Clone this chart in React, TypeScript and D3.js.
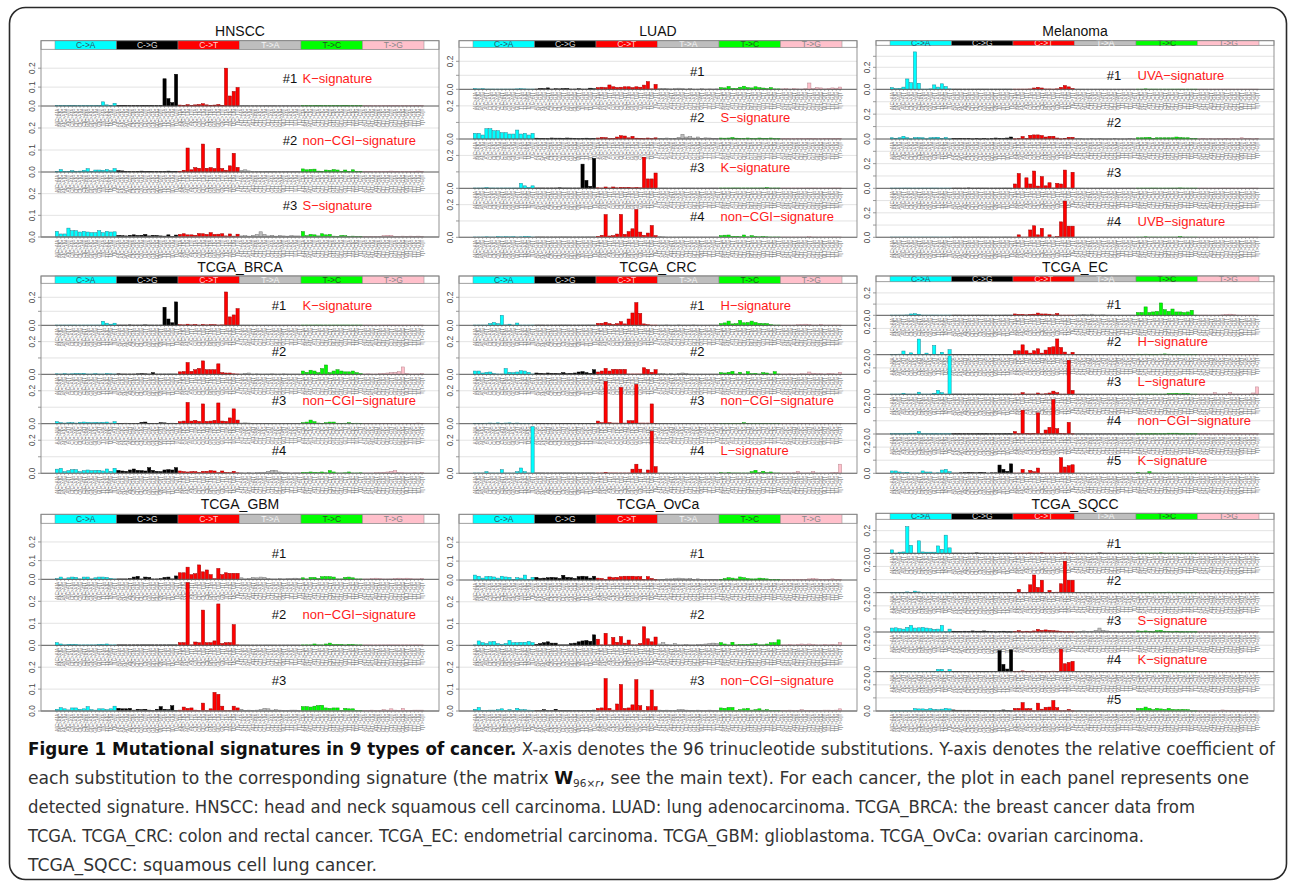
import * as d3 from 'd3'

// 96 trinucleotide substitutions
const substitutions = ['C->A', 'C->G', 'C->T', 'T->A', 'T->C', 'T->G']
const bases = ['A', 'C', 'G', 'T']
const contexts = substitutions.flatMap(s =>
  bases.flatMap(b5 => bases.map(b3 => `${b5}[${s[0]}>${s[3]}]${b3}`))
)

const subFill = ['#00ffff', '#000000', '#ff0000', '#bebebe', '#00ff00', '#ffc0cb']
const subStroke = ['#1b8a99', '#000000', '#9b0000', '#777777', '#119911', '#b98890']
const subText = ['#335566', '#dddddd', '#ffd0d0', '#f4f4f4', '#225522', '#888888']

// ---- HNSCC ----
const hnscc1 = [
  .002, .002, .002, .002, .002, .002, .002, .002, .002, .002, .002, .002, .022, .006, .004, .014,
  .002, .003, .003, .002, .002, .002, .002, .002, .002, .002, .002, .002, .144, .039, .018, .168,
  .005, .004, .007, .003, .006, .008, .012, .006, .004, .005, .008, .004, .200, .053, .077, .098,
  .002, .002, .002, .002, .002, .002, .002, .002, .002, .002, .002, .002, .002, .002, .002, .002,
  .002, .002, .002, .002, .002, .002, .002, .002, .002, .002, .002, .003, .002, .002, .002, .002,
  .002, .002, .002, .002, .002, .002, .002, .002, .002, .002, .002, .002, .002, .002, .002, .002,
]
const hnscc2 = [
  .002, .011, .002, .002, .006, .002, .004, .008, .015, .002, .009, .009, .008, .011, .006, .015,
  .006, .005, .003, .002, .002, .003, .004, .002, .003, .002, .002, .002, .002, .004, .002, .003,
  .003, .008, .109, .010, .020, .017, .127, .017, .020, .016, .108, .016, .008, .028, .085, .021,
  .007, .010, .005, .002, .002, .003, .002, .002, .002, .003, .002, .002, .002, .002, .002, .002,
  .014, .010, .012, .013, .004, .003, .009, .008, .011, .009, .002, .009, .002, .010, .002, .002,
  .002, .002, .002, .003, .002, .002, .002, .004, .002, .002, .002, .002, .002, .002, .004, .002,
]
const hnscc3 = [
  .026, .014, .014, .041, .029, .029, .023, .026, .023, .020, .020, .029, .020, .026, .023, .024,
  .007, .006, .005, .008, .010, .007, .008, .012, .005, .008, .007, .005, .004, .010, .003, .009,
  .012, .015, .010, .010, .008, .016, .015, .012, .020, .012, .013, .015, .005, .014, .004, .013,
  .005, .006, .004, .008, .012, .024, .012, .005, .008, .004, .007, .005, .004, .006, .005, .005,
  .025, .006, .012, .010, .005, .015, .010, .012, .004, .003, .007, .006, .003, .004, .002, .003,
  .002, .002, .003, .002, .003, .006, .008, .008, .002, .003, .004, .003, .004, .003, .004, .003,
]
const hnsccNames = ['K−signature', 'non−CGI−signature', 'S−signature']

// ---- LUAD ----
const luad1 = [
  .005, .003, .004, .002, .002, .002, .002, .002, .002, .002, .002, .003, .004, .003, .002, .002,
  .002, .006, .005, .010, .002, .004, .003, .005, .006, .002, .002, .004, .002, .002, .008, .004,
  .012, .015, .012, .031, .018, .013, .015, .018, .018, .012, .018, .015, .030, .055, .003, .035,
  .006, .007, .005, .003, .006, .008, .005, .002, .006, .002, .002, .004, .002, .003, .002, .003,
  .012, .010, .020, .007, .006, .015, .022, .012, .010, .018, .012, .009, .005, .012, .003, .003,
  .003, .004, .002, .006, .003, .002, .004, .045, .005, .012, .010, .003, .006, .010, .008, .016,
]
const luad2 = [
  .034, .034, .024, .062, .062, .050, .050, .038, .038, .030, .030, .054, .030, .034, .024, .034,
  .005, .003, .003, .002, .006, .005, .005, .004, .006, .005, .004, .002, .003, .005, .002, .003,
  .006, .010, .008, .002, .003, .012, .020, .018, .007, .016, .005, .004, .002, .006, .002, .007,
  .004, .002, .006, .003, .004, .010, .028, .012, .014, .006, .012, .004, .007, .006, .003, .004,
  .006, .005, .006, .009, .005, .004, .003, .006, .003, .002, .006, .003, .004, .006, .002, .002,
  .002, .002, .002, .002, .003, .004, .002, .003, .002, .002, .002, .004, .003, .002, .002, .003,
]
const luad3 = [
  .002, .002, .002, .004, .002, .002, .002, .002, .002, .002, .002, .002, .030, .015, .006, .015,
  .002, .002, .002, .002, .002, .002, .003, .002, .002, .002, .002, .002, .147, .048, .012, .181,
  .003, .002, .008, .002, .008, .003, .006, .005, .006, .003, .005, .003, .189, .057, .057, .093,
  .002, .002, .002, .002, .002, .002, .002, .002, .002, .002, .002, .002, .002, .002, .002, .002,
  .002, .002, .002, .002, .002, .002, .002, .002, .002, .002, .002, .002, .004, .002, .002, .002,
  .002, .002, .002, .002, .002, .002, .002, .002, .002, .002, .002, .002, .002, .002, .002, .002,
]
const luad4 = [
  .002, .002, .002, .003, .002, .002, .005, .003, .004, .003, .004, .002, .003, .006, .005, .002,
  .002, .002, .002, .002, .002, .002, .002, .002, .002, .002, .002, .002, .002, .002, .002, .002,
  .006, .012, .139, .008, .010, .020, .140, .018, .035, .052, .169, .032, .012, .026, .072, .010,
  .005, .003, .002, .002, .002, .002, .002, .002, .002, .002, .002, .002, .002, .002, .002, .002,
  .010, .013, .014, .006, .006, .004, .014, .003, .010, .005, .003, .005, .003, .002, .002, .002,
  .002, .002, .002, .002, .002, .002, .002, .004, .002, .002, .002, .002, .002, .002, .002, .002,
]
const luadNames = ['', 'S−signature', 'K−signature', 'non−CGI−signature']

// ---- Melanoma ----
const mel1 = [
  .015, .006, .008, .020, .094, .060, .340, .055, .002, .002, .004, .040, .020, .050, .025, .004,
  .002, .002, .002, .002, .002, .002, .002, .002, .002, .002, .002, .002, .002, .002, .002, .002,
  .002, .002, .002, .002, .003, .012, .018, .012, .003, .003, .002, .004, .018, .034, .022, .008,
  .002, .002, .002, .002, .002, .002, .002, .002, .002, .002, .002, .002, .002, .002, .002, .002,
  .002, .002, .004, .002, .002, .002, .002, .002, .002, .002, .002, .002, .002, .002, .002, .002,
  .002, .002, .002, .002, .002, .002, .002, .002, .002, .002, .002, .002, .002, .002, .002, .002,
]
const mel2 = [
  .010, .006, .010, .022, .010, .002, .012, .012, .010, .002, .010, .012, .014, .004, .012, .002,
  .004, .003, .005, .003, .005, .002, .004, .002, .004, .002, .003, .008, .006, .004, .008, .016,
  .002, .003, .020, .003, .030, .033, .033, .028, .016, .022, .022, .008, .002, .006, .014, .014,
  .003, .003, .002, .002, .004, .002, .003, .002, .002, .002, .003, .002, .002, .002, .003, .002,
  .010, .010, .012, .014, .004, .010, .010, .010, .010, .010, .016, .012, .010, .010, .003, .003,
  .002, .003, .002, .004, .002, .003, .002, .005, .002, .003, .002, .010, .004, .003, .002, .005,
]
const mel3 = [
  .002, .002, .002, .002, .002, .002, .002, .002, .002, .002, .002, .002, .002, .002, .002, .002,
  .002, .002, .002, .002, .003, .002, .002, .002, .002, .002, .002, .002, .002, .002, .002, .002,
  .035, .120, .002, .085, .035, .140, .018, .095, .020, .045, .003, .040, .035, .148, .003, .130,
  .002, .002, .002, .002, .002, .002, .002, .002, .002, .002, .002, .002, .002, .002, .002, .002,
  .002, .002, .002, .002, .002, .002, .002, .002, .002, .002, .002, .003, .002, .002, .002, .002,
  .002, .002, .002, .002, .002, .002, .002, .002, .002, .002, .002, .002, .002, .002, .002, .002,
]
const mel4 = [
  .002, .002, .002, .002, .002, .002, .002, .002, .002, .002, .002, .002, .002, .002, .002, .002,
  .002, .002, .002, .002, .002, .002, .002, .002, .002, .002, .002, .002, .002, .002, .002, .002,
  .002, .020, .002, .002, .060, .094, .020, .073, .002, .020, .002, .006, .126, .296, .091, .091,
  .002, .002, .002, .002, .002, .002, .002, .002, .002, .002, .002, .002, .002, .002, .002, .002,
  .002, .002, .004, .002, .002, .002, .002, .002, .002, .002, .002, .006, .002, .002, .002, .002,
  .002, .002, .002, .002, .002, .002, .002, .002, .002, .002, .002, .002, .002, .002, .002, .002,
]
const melNames = ['UVA−signature', '', '', 'UVB−signature']

// ---- TCGA_BRCA ----
const brca1 = [
  .002, .002, .002, .002, .002, .002, .002, .002, .002, .002, .002, .002, .029, .015, .008, .015,
  .002, .002, .002, .003, .002, .002, .002, .003, .002, .002, .002, .002, .129, .045, .018, .167,
  .004, .003, .008, .003, .006, .002, .006, .003, .005, .004, .002, .003, .238, .060, .074, .119,
  .002, .002, .002, .002, .002, .002, .002, .002, .002, .002, .002, .002, .002, .002, .002, .002,
  .002, .002, .002, .002, .002, .002, .002, .002, .002, .002, .002, .002, .002, .002, .002, .002,
  .002, .002, .002, .002, .002, .002, .002, .002, .002, .002, .002, .002, .002, .002, .002, .002,
]
const brca2 = [
  .003, .002, .004, .002, .003, .005, .004, .006, .002, .002, .004, .002, .002, .005, .003, .002,
  .003, .002, .002, .002, .002, .003, .004, .003, .002, .010, .002, .002, .002, .002, .002, .002,
  .015, .017, .072, .018, .028, .036, .082, .028, .028, .028, .064, .010, .008, .008, .003, .002,
  .002, .006, .008, .002, .003, .002, .002, .002, .003, .002, .002, .003, .002, .002, .002, .002,
  .020, .012, .025, .020, .010, .035, .057, .010, .020, .028, .020, .015, .015, .020, .010, .004,
  .002, .003, .002, .002, .004, .006, .008, .010, .012, .016, .045, .006, .002, .002, .002, .004,
]
const brca3 = [
  .012, .006, .004, .006, .006, .004, .008, .010, .008, .006, .008, .006, .008, .010, .004, .012,
  .002, .002, .003, .002, .002, .002, .008, .010, .002, .002, .002, .006, .005, .002, .003, .002,
  .012, .016, .129, .016, .020, .014, .120, .014, .016, .020, .126, .016, .014, .035, .090, .022,
  .004, .005, .004, .002, .002, .002, .002, .002, .002, .002, .002, .002, .002, .002, .002, .002,
  .006, .010, .022, .012, .004, .002, .006, .010, .010, .003, .002, .003, .006, .002, .003, .002,
  .002, .002, .002, .002, .002, .002, .002, .002, .002, .002, .002, .002, .002, .002, .004, .002,
]
const brca4 = [
  .025, .030, .010, .016, .022, .022, .010, .016, .020, .016, .018, .018, .014, .026, .012, .030,
  .018, .014, .012, .020, .026, .018, .016, .014, .034, .018, .012, .010, .020, .022, .020, .034,
  .014, .010, .008, .010, .010, .006, .012, .012, .016, .014, .004, .014, .006, .004, .012, .003,
  .003, .002, .004, .002, .004, .006, .006, .012, .018, .016, .008, .006, .004, .002, .003, .003,
  .006, .005, .008, .006, .004, .008, .003, .016, .008, .002, .002, .003, .008, .002, .002, .003,
  .002, .002, .002, .004, .004, .006, .008, .012, .016, .004, .003, .002, .002, .003, .002, .004,
]
const brcaNames = ['K−signature', '', 'non−CGI−signature', '']

// ---- TCGA_CRC ----
const crc1 = [
  .002, .002, .002, .002, .012, .020, .012, .071, .003, .008, .002, .016, .002, .002, .002, .002,
  .002, .002, .002, .002, .002, .002, .002, .002, .002, .002, .002, .002, .002, .002, .002, .002,
  .014, .014, .022, .012, .006, .012, .026, .010, .045, .088, .162, .085, .010, .004, .002, .002,
  .002, .002, .003, .002, .002, .003, .002, .002, .002, .003, .002, .002, .002, .002, .002, .002,
  .012, .017, .030, .010, .012, .035, .018, .020, .030, .020, .014, .012, .012, .004, .002, .002,
  .002, .002, .002, .002, .004, .006, .008, .004, .002, .002, .006, .002, .002, .002, .002, .002,
]
const crc2 = [
  .020, .020, .008, .012, .014, .004, .002, .002, .035, .012, .010, .014, .022, .020, .012, .002,
  .008, .006, .004, .008, .006, .006, .004, .010, .004, .006, .008, .014, .016, .010, .006, .028,
  .014, .020, .036, .020, .030, .030, .030, .030, .002, .002, .002, .002, .040, .030, .012, .028,
  .004, .004, .002, .004, .002, .006, .008, .006, .002, .002, .002, .002, .002, .002, .002, .002,
  .010, .008, .012, .018, .002, .012, .002, .016, .004, .006, .002, .010, .008, .002, .016, .002,
  .002, .002, .003, .002, .002, .004, .003, .014, .006, .004, .004, .002, .006, .004, .002, .012,
]
const crc3 = [
  .002, .002, .002, .003, .004, .003, .005, .002, .004, .005, .002, .004, .002, .002, .002, .002,
  .002, .002, .002, .002, .002, .002, .002, .002, .002, .002, .002, .002, .002, .002, .002, .002,
  .016, .006, .257, .006, .004, .004, .220, .004, .018, .018, .239, .004, .004, .004, .120, .002,
  .002, .002, .002, .002, .002, .002, .002, .002, .002, .002, .002, .002, .002, .002, .002, .002,
  .002, .002, .002, .002, .002, .002, .006, .002, .002, .002, .002, .002, .002, .002, .002, .002,
  .002, .002, .002, .002, .002, .002, .002, .002, .002, .002, .002, .002, .002, .002, .002, .002,
]
const crc4 = [
  .002, .002, .002, .010, .002, .002, .002, .022, .002, .002, .002, .010, .032, .010, .002, .282,
  .002, .002, .002, .002, .002, .002, .002, .002, .002, .002, .002, .002, .002, .002, .002, .002,
  .002, .002, .006, .002, .002, .002, .002, .002, .002, .025, .055, .025, .002, .020, .255, .040,
  .002, .002, .002, .002, .002, .002, .002, .002, .002, .002, .002, .002, .002, .002, .002, .002,
  .004, .002, .004, .002, .002, .002, .002, .002, .010, .018, .004, .012, .004, .008, .002, .002,
  .002, .002, .002, .003, .012, .002, .002, .002, .010, .002, .002, .002, .002, .004, .006, .055,
]
const crcNames = ['H−signature', '', 'non−CGI−signature', 'L−signature']

// ---- TCGA_EC ----
const ec1 = [
  .002, .002, .002, .002, .003, .012, .014, .008, .002, .002, .002, .002, .002, .002, .002, .002,
  .002, .002, .002, .002, .002, .002, .002, .002, .002, .002, .002, .002, .002, .002, .002, .002,
  .012, .008, .008, .004, .008, .010, .020, .012, .012, .010, .004, .016, .002, .002, .002, .002,
  .003, .004, .008, .004, .010, .003, .003, .004, .002, .002, .002, .002, .002, .002, .002, .002,
  .025, .025, .075, .025, .030, .035, .110, .050, .035, .056, .030, .030, .025, .030, .045, .002,
  .002, .002, .002, .002, .002, .002, .004, .008, .010, .006, .002, .002, .002, .002, .002, .002,
]
const ec2 = [
  .002, .002, .004, .028, .002, .014, .002, .119, .002, .012, .002, .070, .002, .018, .002, .038,
  .002, .002, .002, .002, .002, .002, .002, .002, .002, .002, .002, .002, .002, .002, .002, .002,
  .030, .030, .075, .030, .012, .030, .045, .012, .035, .055, .060, .120, .055, .020, .004, .018,
  .002, .002, .002, .002, .002, .002, .002, .002, .002, .002, .002, .002, .002, .002, .002, .002,
  .004, .002, .004, .002, .002, .002, .004, .006, .004, .002, .002, .002, .002, .002, .002, .002,
  .002, .002, .002, .002, .002, .002, .002, .002, .002, .002, .002, .002, .002, .002, .002, .002,
]
const ec3 = [
  .002, .002, .002, .008, .002, .002, .002, .016, .002, .002, .002, .008, .030, .012, .002, .291,
  .002, .002, .002, .002, .002, .002, .002, .002, .002, .002, .002, .002, .002, .002, .002, .002,
  .002, .002, .012, .002, .002, .002, .010, .002, .004, .010, .024, .012, .002, .002, .258, .030,
  .002, .002, .002, .002, .002, .002, .002, .002, .002, .002, .002, .002, .002, .002, .002, .002,
  .002, .002, .002, .002, .002, .002, .002, .002, .006, .006, .008, .004, .006, .006, .002, .002,
  .002, .002, .002, .002, .012, .002, .002, .002, .012, .002, .002, .002, .002, .002, .010, .056,
]
const ec4 = [
  .002, .002, .002, .002, .002, .006, .006, .018, .002, .002, .002, .002, .002, .002, .002, .002,
  .002, .002, .002, .002, .002, .002, .002, .002, .002, .002, .002, .002, .002, .002, .002, .002,
  .018, .002, .180, .004, .002, .004, .160, .002, .030, .050, .260, .040, .004, .002, .088, .002,
  .002, .002, .002, .002, .002, .002, .002, .002, .002, .002, .002, .002, .002, .002, .002, .002,
  .002, .002, .002, .002, .002, .002, .002, .002, .006, .006, .006, .002, .002, .002, .002, .002,
  .002, .002, .002, .002, .002, .002, .002, .002, .002, .002, .002, .002, .002, .002, .002, .002,
]
const ec5 = [
  .018, .018, .010, .004, .008, .002, .002, .002, .018, .010, .010, .002, .004, .025, .030, .012,
  .002, .002, .004, .006, .008, .006, .004, .008, .006, .002, .004, .004, .063, .030, .015, .072,
  .002, .002, .030, .002, .022, .012, .040, .002, .002, .002, .002, .002, .119, .048, .058, .065,
  .002, .002, .002, .002, .002, .002, .002, .002, .002, .002, .002, .002, .002, .002, .002, .002,
  .006, .002, .002, .012, .002, .002, .002, .002, .002, .002, .002, .002, .002, .002, .002, .002,
  .002, .002, .002, .002, .002, .002, .002, .002, .002, .002, .002, .002, .002, .002, .002, .002,
]
const ecNames = ['', 'H−signature', 'L−signature', 'non−CGI−signature', 'K−signature']

// ---- TCGA_GBM ----
const gbm1 = [
  .003, .012, .002, .008, .012, .010, .002, .012, .012, .002, .008, .012, .012, .010, .005, .002,
  .002, .002, .002, .004, .012, .016, .002, .012, .010, .002, .002, .004, .010, .012, .002, .018,
  .035, .035, .065, .025, .030, .077, .040, .050, .025, .003, .058, .025, .035, .032, .032, .032,
  .008, .002, .004, .010, .008, .012, .010, .004, .002, .002, .004, .002, .004, .004, .006, .004,
  .008, .002, .010, .010, .004, .014, .015, .014, .012, .002, .002, .010, .012, .008, .002, .002,
  .002, .002, .004, .006, .004, .002, .002, .002, .004, .006, .004, .006, .004, .002, .002, .004,
]
const gbm2 = [
  .012, .006, .002, .004, .004, .004, .002, .002, .002, .002, .002, .004, .004, .006, .002, .002,
  .002, .002, .002, .002, .002, .002, .002, .002, .002, .002, .002, .002, .002, .002, .002, .002,
  .012, .012, .285, .002, .015, .012, .160, .012, .012, .020, .188, .008, .012, .012, .094, .002,
  .002, .002, .002, .002, .002, .002, .002, .002, .002, .002, .002, .002, .002, .002, .002, .002,
  .002, .002, .002, .006, .002, .002, .006, .010, .004, .004, .004, .002, .004, .004, .002, .002,
  .002, .002, .002, .002, .002, .002, .002, .002, .002, .002, .002, .002, .002, .002, .002, .002,
]
const gbm3 = [
  .008, .015, .010, .005, .014, .014, .008, .010, .020, .006, .004, .010, .010, .006, .010, .022,
  .012, .010, .010, .012, .004, .008, .006, .008, .004, .002, .008, .020, .008, .006, .024, .002,
  .004, .018, .012, .014, .004, .002, .036, .002, .010, .085, .076, .022, .002, .002, .022, .014,
  .008, .002, .004, .002, .004, .006, .012, .010, .004, .006, .004, .002, .002, .004, .004, .002,
  .020, .020, .018, .022, .025, .026, .014, .012, .014, .014, .002, .012, .010, .010, .002, .002,
  .002, .002, .004, .002, .002, .006, .004, .010, .004, .002, .012, .002, .002, .004, .004, .004,
]
const gbmNames = ['', 'non−CGI−signature', '']

// ---- TCGA_OvCa ----
const ovca1 = [
  .026, .020, .010, .018, .018, .016, .010, .020, .016, .014, .002, .012, .010, .026, .002, .014,
  .014, .008, .010, .012, .014, .012, .008, .025, .014, .012, .008, .018, .020, .018, .010, .020,
  .010, .008, .002, .016, .012, .014, .018, .020, .020, .020, .018, .018, .002, .018, .008, .002,
  .002, .004, .006, .006, .008, .010, .008, .006, .008, .004, .006, .004, .004, .004, .004, .004,
  .004, .008, .012, .010, .006, .016, .012, .008, .006, .006, .010, .008, .006, .002, .002, .002,
  .002, .002, .002, .004, .004, .004, .004, .006, .008, .006, .004, .002, .004, .006, .002, .002,
]
const ovca2 = [
  .002, .020, .012, .008, .016, .018, .008, .004, .008, .022, .012, .012, .014, .014, .018, .012,
  .004, .008, .012, .016, .010, .010, .002, .002, .002, .008, .010, .016, .020, .022, .018, .048,
  .028, .002, .055, .002, .036, .014, .040, .010, .024, .002, .002, .008, .085, .030, .016, .038,
  .006, .012, .004, .002, .008, .002, .002, .004, .002, .002, .004, .004, .006, .008, .010, .008,
  .012, .006, .002, .014, .002, .004, .004, .004, .006, .008, .002, .002, .006, .012, .012, .025,
  .002, .002, .004, .002, .004, .006, .004, .006, .004, .002, .002, .004, .002, .004, .002, .012,
]
const ovca3 = [
  .008, .016, .002, .002, .004, .004, .006, .010, .002, .006, .002, .012, .006, .006, .004, .002,
  .002, .002, .006, .002, .002, .008, .002, .002, .002, .002, .002, .002, .002, .002, .002, .004,
  .012, .014, .148, .012, .004, .032, .121, .012, .014, .028, .143, .024, .002, .020, .096, .020,
  .004, .002, .004, .002, .002, .006, .006, .004, .002, .002, .004, .002, .002, .004, .002, .002,
  .014, .012, .016, .016, .002, .006, .010, .012, .004, .006, .010, .004, .006, .002, .002, .002,
  .002, .002, .004, .002, .002, .006, .002, .002, .002, .002, .002, .004, .004, .002, .004, .010,
]
const ovcaNames = ['', '', 'non−CGI−signature']

// ---- TCGA_SQCC ----
const sqcc1 = [
  .030, .002, .010, .012, .235, .070, .002, .110, .012, .010, .010, .010, .065, .035, .160, .048,
  .002, .002, .002, .002, .002, .002, .004, .002, .002, .002, .002, .002, .002, .002, .002, .002,
  .002, .002, .002, .002, .003, .002, .002, .004, .002, .002, .002, .002, .003, .004, .002, .002,
  .002, .002, .002, .002, .002, .002, .008, .002, .002, .002, .002, .002, .002, .002, .002, .002,
  .002, .002, .002, .002, .002, .002, .004, .002, .002, .002, .002, .002, .002, .002, .002, .002,
  .002, .002, .002, .002, .002, .002, .002, .002, .002, .002, .002, .002, .002, .002, .002, .002,
]
const sqcc2 = [
  .002, .002, .002, .002, .006, .002, .012, .006, .002, .002, .002, .002, .003, .002, .002, .002,
  .002, .002, .002, .002, .002, .002, .002, .002, .002, .002, .002, .002, .002, .002, .002, .002,
  .002, .025, .002, .002, .060, .135, .040, .095, .002, .018, .002, .004, .068, .240, .095, .095,
  .002, .002, .002, .002, .002, .002, .002, .002, .002, .002, .002, .002, .002, .002, .002, .002,
  .002, .002, .002, .002, .002, .002, .002, .002, .004, .002, .002, .002, .002, .002, .002, .002,
  .002, .002, .002, .002, .002, .002, .002, .002, .002, .002, .002, .002, .002, .002, .002, .002,
]
const sqcc3 = [
  .030, .032, .025, .022, .035, .050, .030, .032, .035, .030, .025, .020, .022, .050, .002, .022,
  .006, .004, .004, .006, .004, .008, .006, .006, .008, .006, .004, .002, .004, .006, .002, .002,
  .004, .010, .002, .006, .002, .008, .020, .012, .016, .012, .010, .008, .006, .002, .002, .002,
  .002, .004, .008, .004, .006, .012, .030, .012, .008, .004, .006, .002, .002, .002, .002, .002,
  .008, .006, .008, .004, .002, .010, .012, .006, .004, .002, .006, .002, .002, .002, .002, .002,
  .002, .002, .002, .002, .002, .002, .002, .002, .002, .002, .002, .002, .002, .002, .002, .002,
]
const sqcc4 = [
  .002, .002, .002, .002, .002, .002, .002, .002, .002, .002, .002, .002, .018, .018, .002, .016,
  .002, .002, .002, .002, .002, .002, .002, .002, .002, .002, .002, .002, .160, .055, .020, .165,
  .002, .002, .006, .002, .002, .002, .004, .002, .002, .002, .004, .002, .170, .060, .070, .078,
  .002, .002, .002, .002, .002, .002, .002, .002, .002, .002, .002, .002, .002, .002, .002, .002,
  .002, .002, .002, .002, .002, .002, .002, .002, .002, .002, .002, .002, .002, .002, .002, .002,
  .002, .002, .002, .002, .002, .002, .002, .002, .002, .002, .002, .002, .002, .002, .002, .002,
]
const sqcc5 = [
  .002, .002, .002, .002, .002, .002, .018, .016, .016, .012, .018, .012, .010, .014, .020, .016,
  .008, .006, .006, .006, .006, .004, .004, .004, .004, .002, .002, .004, .004, .008, .004, .002,
  .020, .020, .064, .018, .018, .002, .060, .014, .028, .030, .080, .025, .002, .002, .012, .002,
  .002, .004, .002, .002, .002, .002, .002, .002, .002, .002, .002, .002, .002, .002, .002, .002,
  .020, .020, .030, .020, .010, .020, .016, .012, .020, .012, .010, .010, .012, .010, .002, .002,
  .002, .002, .002, .002, .004, .004, .008, .006, .004, .002, .004, .002, .002, .004, .002, .002,
]
const sqccNames = ['', '', 'S−signature', 'K−signature', '']

// ---- layout ----
const colLeft = [41, 459, 876]
const boxW = 398
const barInset = 14
const barSpan = 369

type Panel = {
  title: string
  col: number
  titleY: number
  headTop: number
  headBot: number
  baselines: number[]
  ymax: number
  ticks: number[]
  labels: number[]
  numDx: number
  labelV: number
  sigs: number[][]
  names: string[]
}

const panels: Panel[] = [
  { title: 'HNSCC', col: 0, titleY: 35.8, headTop: 40.7, headBot: 49.3, baselines: [106, 172, 237], ymax: 0.3, ticks: [0, 0.1, 0.2], labels: [0, 0.1, 0.2], numDx: 241.7, labelV: 0.145, sigs: [hnscc1, hnscc2, hnscc3], names: hnsccNames },
  { title: 'LUAD', col: 1, titleY: 35.8, headTop: 40.7, headBot: 47.3, baselines: [89.3, 139, 188.3, 237.3], ymax: 0.3, ticks: [0, 0.1, 0.2], labels: [0, 0.2], numDx: 231, labelV: 0.13, sigs: [luad1, luad2, luad3, luad4], names: luadNames },
  { title: 'Melanoma', col: 2, titleY: 35.8, headTop: 40.7, headBot: 45.3, baselines: [89.3, 139, 188.3, 237.3], ymax: 0.4, ticks: [0, 0.1, 0.2, 0.3], labels: [0, 0.2], numDx: 230.7, labelV: 0.13, sigs: [mel1, mel2, mel3, mel4], names: melNames },
  { title: 'TCGA_BRCA', col: 0, titleY: 271.8, headTop: 276, headBot: 283.3, baselines: [325.3, 374.3, 423.7, 473.3], ymax: 0.3, ticks: [0, 0.1, 0.2], labels: [0, 0.2], numDx: 230.7, labelV: 0.14, sigs: [brca1, brca2, brca3, brca4], names: brcaNames },
  { title: 'TCGA_CRC', col: 1, titleY: 271.8, headTop: 276, headBot: 283.3, baselines: [325.3, 374.3, 423.7, 473.3], ymax: 0.3, ticks: [0, 0.1, 0.2], labels: [0, 0.2], numDx: 231, labelV: 0.14, sigs: [crc1, crc2, crc3, crc4], names: crcNames },
  { title: 'TCGA_EC', col: 2, titleY: 271.8, headTop: 276, headBot: 281.7, baselines: [315.3, 354.7, 394.3, 434, 473.3], ymax: 0.3, ticks: [0, 0.1, 0.2], labels: [0, 0.2], numDx: 230.7, labelV: 0.1, sigs: [ec1, ec2, ec3, ec4, ec5], names: ecNames },
  { title: 'TCGA_GBM', col: 0, titleY: 509.3, headTop: 514.3, headBot: 523.3, baselines: [579.3, 645.3, 711], ymax: 0.3, ticks: [0, 0.1, 0.2], labels: [0, 0.1, 0.2], numDx: 230.7, labelV: 0.14, sigs: [gbm1, gbm2, gbm3], names: gbmNames },
  { title: 'TCGA_OvCa', col: 1, titleY: 509.3, headTop: 514.3, headBot: 523.3, baselines: [580, 645.3, 711], ymax: 0.3, ticks: [0, 0.1, 0.2], labels: [0, 0.1, 0.2], numDx: 231, labelV: 0.14, sigs: [ovca1, ovca2, ovca3], names: ovcaNames },
  { title: 'TCGA_SQCC', col: 2, titleY: 509.3, headTop: 513.3, headBot: 519.3, baselines: [553.3, 592.7, 632, 671.7, 711], ymax: 0.3, ticks: [0, 0.1, 0.2], labels: [0, 0.2], numDx: 230.7, labelV: 0.09, sigs: [sqcc1, sqcc2, sqcc3, sqcc4, sqcc5], names: sqccNames },
]

const FONT = '"Liberation Sans", Arial, Helvetica, sans-serif'
const CAPFONT = '"Liberation Sans Narrow", "DejaVu Sans Condensed", "Roboto", "Open Sans", sans-serif'
const fmt = d3.format('.1f')

function PanelChart({ p }: { p: Panel }) {
  const left = colLeft[p.col]
  const right = left + boxW
  const x = d3
    .scaleBand<number>()
    .domain(d3.range(96))
    .range([left + barInset, left + barInset + barSpan])
    .paddingInner(0.17)
    .paddingOuter(0.085)
  const segW = barSpan / 6
  const last = p.baselines[p.baselines.length - 1]

  return (
    <g>
      <text x={(left + right) / 2} y={p.titleY} textAnchor="middle" fontSize={14} fontFamily={FONT} fill="#111">
        {p.title}
      </text>

      {/* header strip with substitution classes */}
      <rect x={left} y={p.headTop} width={boxW} height={p.headBot - p.headTop} fill="#fff" stroke="#888" strokeWidth={0.8} />
      {substitutions.map((s, i) => (
        <g key={s}>
          <rect x={left + barInset + i * segW} y={p.headTop} width={segW} height={p.headBot - p.headTop} fill={subFill[i]} stroke="#888" strokeWidth={0.5} />
          <text x={left + barInset + (i + 0.5) * segW} y={(p.headTop + p.headBot) / 2 + 3} textAnchor="middle" fontSize={8.5} fontFamily={FONT} fill={subText[i]}>
            {s}
          </text>
        </g>
      ))}

      {p.sigs.map((sig, k) => {
        const base = p.baselines[k]
        const top = k === 0 ? p.headBot : p.baselines[k - 1]
        const y = d3.scaleLinear().domain([0, p.ymax]).range([base, top])
        const grid = p.ticks.filter(t => t > 0 && y(t) > top + 1)
        return (
          <g key={k}>
            {grid.map(t => (
              <line key={t} x1={left} x2={right} y1={y(t)} y2={y(t)} stroke="#dcdcdc" strokeWidth={0.8} />
            ))}
            {sig.map((v, i) => (
              <rect
                key={i}
                x={x(i)}
                y={y(v)}
                width={x.bandwidth()}
                height={Math.max(base - y(v), 0.4)}
                fill={subFill[Math.floor(i / 16)]}
                stroke={subStroke[Math.floor(i / 16)]}
                strokeWidth={0.5}
              />
            ))}
            <line x1={left} x2={right} y1={base} y2={base} stroke="#555" strokeWidth={1} />
            {/* y axis */}
            {p.ticks.map(t => (
              <line key={t} x1={left - 3} x2={left} y1={y(t)} y2={y(t)} stroke="#555" strokeWidth={0.6} />
            ))}
            {p.labels.map(t => (
              <text
                key={t}
                transform={`translate(${left - 6.5},${y(t)}) rotate(-90)`}
                textAnchor="middle"
                fontSize={8.4}
                fontFamily={FONT}
                fill="#444"
              >
                {fmt(t)}
              </text>
            ))}
            {/* x axis: trinucleotide labels */}
            {contexts.map((c, i) => {
              const cx = (x(i) as number) + x.bandwidth() / 2
              return (
                <g key={c}>
                  <line x1={cx} x2={cx} y1={base} y2={base + 1.8} stroke="#666" strokeWidth={0.5} />
                  <text transform={`translate(${cx + 1.7},${base + 2.6}) rotate(-90)`} textAnchor="end" fontSize={4.7} fontFamily={FONT} fill="#6e6e6e">
                    {c}
                  </text>
                </g>
              )
            })}
            <text x={left + p.numDx} y={y(p.labelV) + 4.6} fontSize={13} fontFamily={FONT} fill="#111">
              {`#${k + 1}`}
            </text>
            {p.names[k] && (
              <text x={left + 261.5} y={y(p.labelV) + 4.6} fontSize={13} fontFamily={FONT} fill="#ff1a1a">
                {p.names[k]}
              </text>
            )}
          </g>
        )
      })}

      <rect x={left} y={p.headTop} width={boxW} height={last - p.headTop} fill="none" stroke="#888" strokeWidth={0.9} />
    </g>
  )
}

export default function App() {
  return (
    <svg width={1290} height={884} style={{ position: 'absolute', left: 0, top: 0, background: '#fff' }}>
      <rect x={9.5} y={7.5} width={1277} height={872} rx={16} fill="#fff" stroke="#2a2a2a" strokeWidth={1.6} />
      {panels.map(p => (
        <PanelChart key={p.title} p={p} />
      ))}

      <g fontFamily={CAPFONT} fontSize={18} fill="#333">
        <text x={28} y={755} textLength={1247} lengthAdjust="spacingAndGlyphs">
          <tspan fontWeight="bold" fill="#111">Figure 1 Mutational signatures in 9 types of cancer.</tspan>
          <tspan> X-axis denotes the 96 trinucleotide substitutions. Y-axis denotes the relative coefficient of</tspan>
        </text>
        <text x={28} y={784} textLength={1221} lengthAdjust="spacingAndGlyphs">
          <tspan>each substitution to the corresponding signature (the matrix </tspan>
          <tspan fontWeight="bold" fill="#111">W</tspan>
          <tspan fontSize={11} dy={3}>96×<tspan fontStyle="italic">r</tspan></tspan>
          <tspan dy={-3}>, see the main text). For each cancer, the plot in each panel represents one</tspan>
        </text>
        <text x={28} y={813} textLength={1167} lengthAdjust="spacingAndGlyphs">
          detected signature. HNSCC: head and neck squamous cell carcinoma. LUAD: lung adenocarcinoma. TCGA_BRCA: the breast cancer data from
        </text>
        <text x={28} y={842} textLength={1116} lengthAdjust="spacingAndGlyphs">
          TCGA. TCGA_CRC: colon and rectal cancer. TCGA_EC: endometrial carcinoma. TCGA_GBM: glioblastoma. TCGA_OvCa: ovarian carcinoma.
        </text>
        <text x={28} y={871} textLength={349} lengthAdjust="spacingAndGlyphs">
          TCGA_SQCC: squamous cell lung cancer.
        </text>
      </g>
    </svg>
  )
}
